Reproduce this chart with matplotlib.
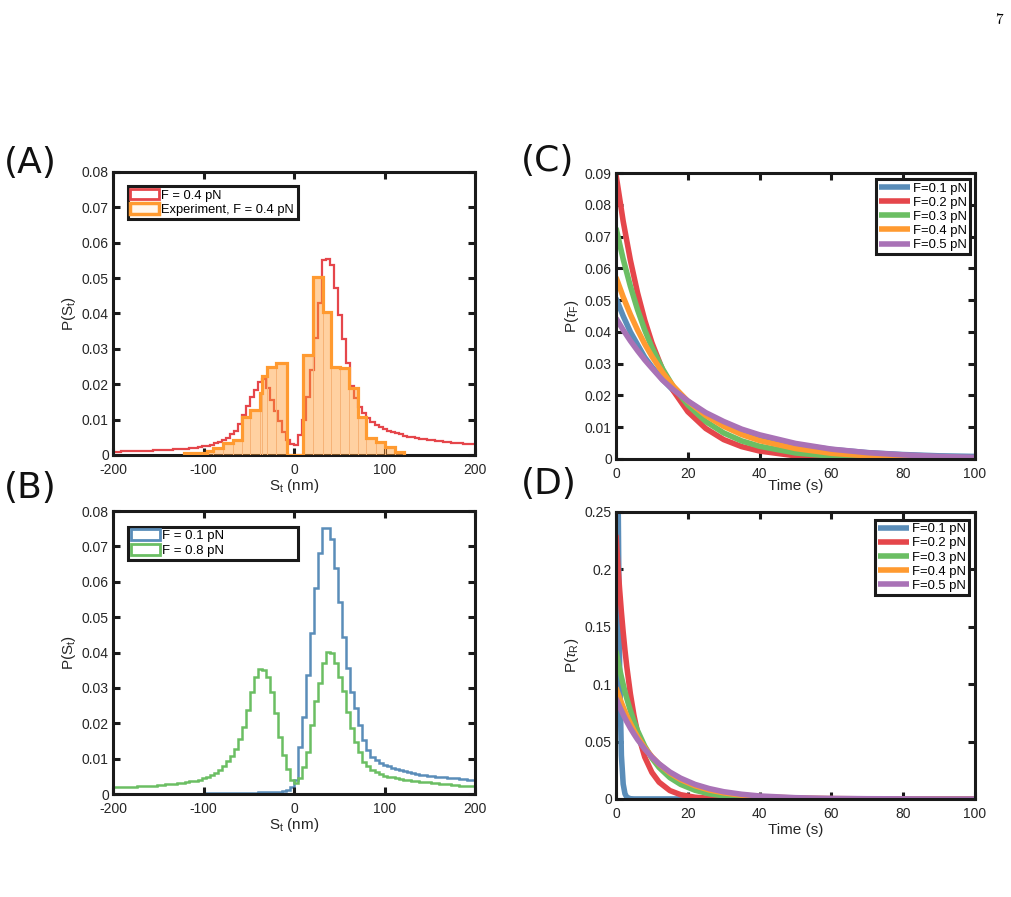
import numpy as np
import matplotlib.pyplot as plt
from matplotlib.patches import Patch
from matplotlib.ticker import FuncFormatter

plt.rcParams['font.family'] = ['Liberation Sans', 'DejaVu Sans']
plt.rcParams['mathtext.fontset'] = 'custom'
plt.rcParams['mathtext.rm'] = 'Liberation Sans'
plt.rcParams['mathtext.it'] = 'Liberation Sans:italic'

# ---- panel A / B : histograms of S_t (90 bins, -200..200 nm)
st_edges = np.linspace(-200, 200, 91)

red_04 = [0.0009, 0.0009, 0.0010, 0.0010, 0.0010, 0.0011, 0.0011, 0.0011, 0.0012, 0.0012,
          0.0013, 0.0013, 0.0014, 0.0014, 0.0015, 0.0016, 0.0016, 0.0017, 0.0018, 0.0019,
          0.0020, 0.0022, 0.0024, 0.0026, 0.0029, 0.0033, 0.0038, 0.0043, 0.0049, 0.0058,
          0.0068, 0.0088, 0.0112, 0.0138, 0.0165, 0.0185, 0.0205, 0.0215, 0.0190, 0.0155,
          0.0125, 0.0095, 0.0065, 0.0042, 0.0030, 0.0028, 0.0057, 0.0099, 0.0165, 0.0240,
          0.0330, 0.0430, 0.0551, 0.0555, 0.0537, 0.0471, 0.0396, 0.0327, 0.0260, 0.0195,
          0.0160, 0.0135, 0.0118, 0.0104, 0.0092, 0.0085, 0.0078, 0.0072, 0.0068, 0.0064,
          0.0061, 0.0058, 0.0055, 0.0052, 0.0050, 0.0048, 0.0046, 0.0044, 0.0043, 0.0042,
          0.0040, 0.0039, 0.0038, 0.0036, 0.0035, 0.0034, 0.0033, 0.0032, 0.0031, 0.0030]

# experiment, F = 0.4 pN (uneven bins, gap around 0)
exp_edges = [-122, -96, -89, -78, -67, -57, -49, -38, -35, -30, -20, -8,
             10, 21, 32, 41, 51, 61, 71, 80, 91, 101, 111, 121]
exp_vals = [0.0005, 0.0010, 0.0021, 0.0035, 0.0042, 0.0108, 0.0127, 0.0174, 0.0223, 0.0250, 0.0259,
            0.0,
            0.0283, 0.0504, 0.0405, 0.0248, 0.0246, 0.0189, 0.0108, 0.0047, 0.0038, 0.0023, 0.0009]

blue_01 = [0, 0, 0, 0, 0, 0, 0, 0, 0, 0,
           0, 0, 0, 0, 0, 0, 0, 0, 0, 0,
           0.0001, 0.0001, 0.0001, 0.0002, 0.0002, 0.0002, 0.0003, 0.0003, 0.0003, 0.0003,
           0.0003, 0.0004, 0.0004, 0.0004, 0.0004, 0.0004, 0.0005, 0.0005, 0.0005, 0.0005,
           0.0005, 0.0006, 0.0008, 0.0012, 0.0020, 0.0040, 0.0134, 0.0219, 0.0336, 0.0454,
           0.0581, 0.0680, 0.0751, 0.0753, 0.0720, 0.0640, 0.0544, 0.0445, 0.0355, 0.0289,
           0.0242, 0.0195, 0.0153, 0.0125, 0.0106, 0.0095, 0.0088, 0.0082, 0.0078, 0.0074,
           0.0070, 0.0067, 0.0064, 0.0061, 0.0059, 0.0057, 0.0055, 0.0053, 0.0052, 0.0050,
           0.0049, 0.0048, 0.0047, 0.0046, 0.0045, 0.0044, 0.0043, 0.0042, 0.0041, 0.0040]

green_08 = [0.0019, 0.0019, 0.0020, 0.0020, 0.0021, 0.0021, 0.0022, 0.0022, 0.0023, 0.0024,
            0.0024, 0.0025, 0.0026, 0.0027, 0.0028, 0.0029, 0.0031, 0.0032, 0.0034, 0.0036,
            0.0038, 0.0041, 0.0044, 0.0048, 0.0053, 0.0060, 0.0068, 0.0080, 0.0093, 0.0108,
            0.0128, 0.0155, 0.0190, 0.0237, 0.0289, 0.0332, 0.0354, 0.0352, 0.0330, 0.0287,
            0.0228, 0.0162, 0.0110, 0.0071, 0.0040, 0.0030, 0.0045, 0.0075, 0.0118, 0.0195,
            0.0262, 0.0314, 0.0370, 0.0402, 0.0398, 0.0370, 0.0330, 0.0292, 0.0233, 0.0186,
            0.0148, 0.0118, 0.0091, 0.0078, 0.0068, 0.0061, 0.0056, 0.0052, 0.0049, 0.0047,
            0.0045, 0.0043, 0.0041, 0.0040, 0.0038, 0.0037, 0.0035, 0.0034, 0.0033, 0.0032,
            0.0030, 0.0029, 0.0028, 0.0027, 0.0026, 0.0025, 0.0024, 0.0023, 0.0023, 0.0022]

# ---- panel C : P(tau_F)
t_c = [0, 2, 4, 6, 8, 10, 13, 16, 20, 25, 30, 35, 40, 50, 60, 70, 80, 90, 100]
c_f01 = [0.0506, 0.0450, 0.0400, 0.0360, 0.0320, 0.0290, 0.0250, 0.0215, 0.0180, 0.0142,
         0.0112, 0.0088, 0.0070, 0.0045, 0.0030, 0.0020, 0.0014, 0.0010, 0.0008]
c_f02 = [0.0895, 0.0748, 0.0626, 0.0523, 0.0437, 0.0366, 0.0280, 0.0214, 0.0149, 0.0096,
         0.0061, 0.0039, 0.0025, 0.0010, 0.0004, 0.0002, 0.0001, 0.0000, 0.0000]
c_f03 = [0.0727, 0.0629, 0.0544, 0.0470, 0.0406, 0.0351, 0.0283, 0.0227, 0.0170, 0.0118,
         0.0082, 0.0057, 0.0040, 0.0019, 0.0009, 0.0004, 0.0002, 0.0001, 0.0001]
c_f04 = [0.0572, 0.0510, 0.0455, 0.0406, 0.0362, 0.0323, 0.0272, 0.0229, 0.0182, 0.0137,
         0.0103, 0.0077, 0.0058, 0.0033, 0.0018, 0.0010, 0.0006, 0.0003, 0.0002]
c_f05 = [0.0443, 0.0406, 0.0372, 0.0341, 0.0312, 0.0286, 0.0248, 0.0218, 0.0183, 0.0146,
         0.0118, 0.0094, 0.0076, 0.0049, 0.0031, 0.0020, 0.0013, 0.0008, 0.0005]

# ---- panel D : P(tau_R)
t_d = [0, 0.5, 1, 1.5, 2, 2.5, 3, 4, 5, 6, 8, 10, 12, 15, 18, 22, 26, 30, 35, 40, 50, 60, 70, 80, 90, 100]
t_d_f01 = [0.6, 1.0, 1.5, 2.0, 2.5, 3.0, 4.0, 5.0, 100]
d_f01 = [0.26, 0.115, 0.038, 0.013, 0.0045, 0.0015, 0.0002, 0, 0]
d_f02 = [0.2300, 0.2050, 0.1827, 0.1629, 0.1452, 0.1294, 0.1154, 0.0917, 0.0728, 0.0579,
         0.0365, 0.0231, 0.0146, 0.0073, 0.0037, 0.0015, 0.0006, 0.0002, 0.0001, 0,
         0, 0, 0, 0, 0, 0]
d_f03 = [0.1290, 0.1209, 0.1134, 0.1063, 0.0997, 0.0934, 0.0876, 0.0770, 0.0677, 0.0595,
         0.0460, 0.0355, 0.0274, 0.0186, 0.0127, 0.0076, 0.0045, 0.0027, 0.0014, 0.0007,
         0.0002, 0.0001, 0, 0, 0, 0]
d_f04 = [0.0970, 0.0924, 0.0880, 0.0839, 0.0799, 0.0761, 0.0725, 0.0658, 0.0597, 0.0542,
         0.0446, 0.0368, 0.0303, 0.0226, 0.0169, 0.0115, 0.0078, 0.0053, 0.0033, 0.0020,
         0.0008, 0.0003, 0.0001, 0, 0, 0]
d_f05 = [0.0877, 0.0839, 0.0803, 0.0769, 0.0736, 0.0704, 0.0674, 0.0617, 0.0566, 0.0518,
         0.0435, 0.0365, 0.0306, 0.0235, 0.0181, 0.0127, 0.0090, 0.0063, 0.0041, 0.0026,
         0.0011, 0.0005, 0.0002, 0.0001, 0, 0]

force_labels = ['F=0.1 pN', 'F=0.2 pN', 'F=0.3 pN', 'F=0.4 pN', 'F=0.5 pN']

BLUE = '#5A8DB9'
RED = '#E5464B'
GREEN = '#6BBE63'
ORANGE = '#FF9A30'
PURPLE = '#A972B6'
TXT = '#262626'

fig = plt.figure(figsize=(10.11, 8.97), dpi=100)
axA = fig.add_axes([0.1118, 0.4928, 0.3581, 0.3155])
axB = fig.add_axes([0.1118, 0.1148, 0.3581, 0.3155])
axC = fig.add_axes([0.6093, 0.4883, 0.3551, 0.3188])
axD = fig.add_axes([0.6093, 0.1093, 0.3551, 0.3200])

fmt = FuncFormatter(lambda v, p: f'{v:g}')


def style(ax):
    for s in ax.spines.values():
        s.set_linewidth(2.2)
        s.set_color('#1a1a1a')
    ax.tick_params(direction='in', length=5, width=2.2, top=True, right=True,
                   labelsize=10, labelcolor=TXT, color='#1a1a1a')
    ax.tick_params(axis='x', pad=6)
    ax.tick_params(axis='y', pad=3)
    ax.xaxis.set_major_formatter(fmt)
    ax.yaxis.set_major_formatter(fmt)


def frame(leg):
    f = leg.get_frame()
    f.set_linewidth(2.2)
    f.set_edgecolor('#1a1a1a')
    f.set_alpha(1)


# ---- (A)
axA.stairs(red_04, st_edges, color=RED, lw=1.6, baseline=None, zorder=2)
lefts = exp_edges[:-1]
widths = np.diff(exp_edges)
axA.bar(lefts, exp_vals, width=widths, align='edge', color=ORANGE, alpha=0.45,
        edgecolor='none', lw=0, zorder=3)
axA.bar(lefts, exp_vals, width=widths, align='edge', facecolor='none',
        edgecolor='#F6B377', lw=0.7, zorder=3)
axA.stairs(exp_vals, exp_edges, color=ORANGE, lw=2.3, zorder=4)
axA.set_xlim(-200, 200)
axA.set_ylim(0, 0.08)
axA.set_xticks(np.arange(-200, 201, 100))
axA.set_yticks(np.arange(0, 0.0801, 0.01))
axA.set_xlabel(r'S$_{\rm t}$ (nm)', fontsize=11, color=TXT, labelpad=0)
axA.set_ylabel(r'P(S$_{\rm t}$)', fontsize=11, color=TXT, labelpad=3)
style(axA)
hA = [Patch(facecolor='white', edgecolor=RED, lw=2),
      Patch(facecolor='#FFF7EE', edgecolor=ORANGE, lw=2.5)]
legA = axA.legend(hA, ['F = 0.4 pN', 'Experiment, F = 0.4 pN'], loc='upper left',
                  bbox_to_anchor=(0.041, 0.95, 0.47, 0.0), mode='expand',
                  fontsize=9.3, fancybox=False, handlelength=2.2, handleheight=0.9,
                  handletextpad=0.15, borderpad=0.2, labelspacing=0.15, borderaxespad=0)
frame(legA)

# ---- (B)
axB.stairs(blue_01, st_edges, color=BLUE, lw=1.8, baseline=None)
axB.stairs(green_08, st_edges, color=GREEN, lw=1.8, baseline=None)
axB.set_xlim(-200, 200)
axB.set_ylim(0, 0.08)
axB.set_xticks(np.arange(-200, 201, 100))
axB.set_yticks(np.arange(0, 0.0801, 0.01))
axB.set_xlabel(r'S$_{\rm t}$ (nm)', fontsize=11, color=TXT, labelpad=0)
axB.set_ylabel(r'P(S$_{\rm t}$)', fontsize=11, color=TXT, labelpad=3)
style(axB)
hB = [Patch(facecolor='white', edgecolor=BLUE, lw=2),
      Patch(facecolor='white', edgecolor=GREEN, lw=2)]
legB = axB.legend(hB, ['F = 0.1 pN', 'F = 0.8 pN'], loc='upper left',
                  bbox_to_anchor=(0.041, 0.945, 0.47, 0.0), mode='expand',
                  fontsize=9.5, fancybox=False, handlelength=2.2, handleheight=0.9,
                  handletextpad=0.15, borderpad=0.2, labelspacing=0.15, borderaxespad=0)
frame(legB)

# ---- (C)
colors = [BLUE, RED, GREEN, ORANGE, PURPLE]
for ys, c, lab in zip([c_f01, c_f02, c_f03, c_f04, c_f05], colors, force_labels):
    axC.plot(t_c, ys, color=c, lw=4, label=lab, solid_capstyle='butt')
axC.set_xlim(0, 100)
axC.set_ylim(0, 0.09)
axC.set_xticks(np.arange(0, 101, 20))
axC.set_yticks(np.arange(0, 0.0901, 0.01))
axC.set_xlabel('Time (s)', fontsize=11, color=TXT, labelpad=-2)
axC.set_ylabel(r'P($\tau_{\rm F}$)', fontsize=11, color=TXT, labelpad=3)
style(axC)
legC = axC.legend(loc='upper right', bbox_to_anchor=(0.986, 0.978), fontsize=9.4,
                  fancybox=False, handlelength=2.4, handletextpad=0.2, borderpad=0.25,
                  labelspacing=0.15, borderaxespad=0)
frame(legC)

# ---- (D)
axD.plot(t_d_f01, d_f01, color=BLUE, lw=4, label=force_labels[0], solid_capstyle='butt')
for ys, c, lab in zip([d_f02, d_f03, d_f04, d_f05], colors[1:], force_labels[1:]):
    axD.plot(t_d, ys, color=c, lw=4, label=lab, solid_capstyle='butt')
axD.set_xlim(0, 100)
axD.set_ylim(0, 0.25)
axD.set_xticks(np.arange(0, 101, 20))
axD.set_yticks(np.arange(0, 0.2501, 0.05))
axD.set_xlabel('Time (s)', fontsize=11, color=TXT, labelpad=1)
axD.set_ylabel(r'P($\tau_{\rm R}$)', fontsize=11, color=TXT, labelpad=3)
style(axD)
legD = axD.legend(loc='upper right', bbox_to_anchor=(0.983, 0.972), fontsize=9.4,
                  fancybox=False, handlelength=2.4, handletextpad=0.2, borderpad=0.25,
                  labelspacing=0.15, borderaxespad=0)
frame(legD)

# panel letters and page number
for lab, x, y in [('(A)', 0.004, 0.818), ('(B)', 0.004, 0.456),
                  ('(C)', 0.515, 0.820), ('(D)', 0.515, 0.460)]:
    fig.text(x, y, lab, fontsize=26, family='DejaVu Sans', color='#111111', va='center')
fig.text(0.992, 0.978, '7', fontsize=11, family='cmr10', ha='right', va='center')

fig.savefig('out.png', dpi=100)
